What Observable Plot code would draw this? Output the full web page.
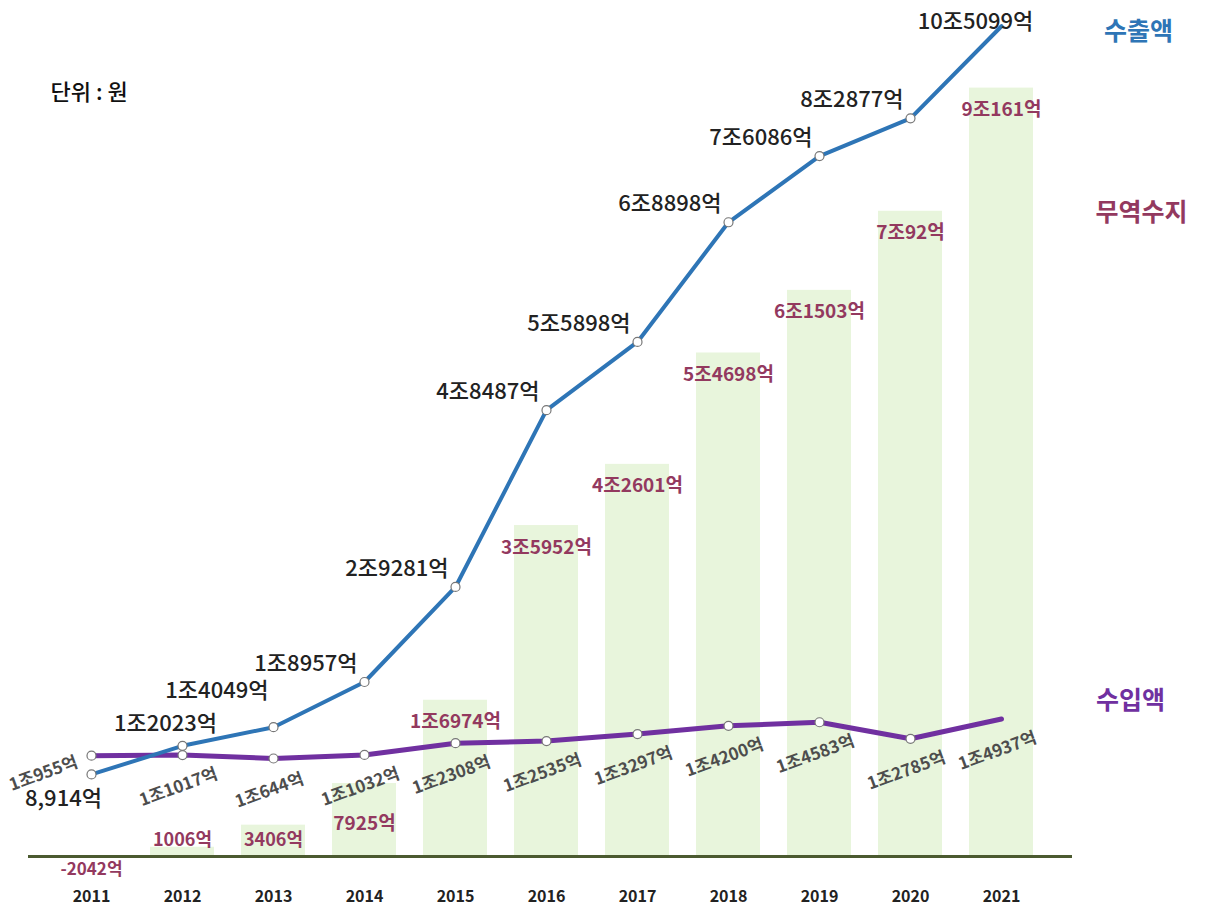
<!DOCTYPE html>
<html>
<head>
<meta charset="utf-8">
<script src="https://cdn.jsdelivr.net/npm/d3@7"></script>
<script src="https://cdn.jsdelivr.net/npm/@observablehq/plot@0.6"></script>
<style>
  html, body { margin: 0; padding: 0; background: #fff; }
  #chart { width: 1209px; height: 912px; }
  svg { font-family: "Noto Sans CJK KR", "Noto Sans", sans-serif; }
</style>
</head>
<body>
<div id="chart"></div>
<script>
const years = [2011, 2012, 2013, 2014, 2015, 2016, 2017, 2018, 2019, 2020, 2021];
const exportsV = [8914, 12023, 14049, 18957, 29281, 48487, 55898, 68898, 76086, 82877, 105099];
const importsV = [10955, 11017, 10644, 11032, 12308, 12535, 13297, 14200, 14583, 12785, 14937];
const balanceV = [-2042, 1006, 3406, 7925, 16974, 35952, 42601, 54698, 61503, 70092, 90161];
const exportLabels = ["8,914억", "1조2023억", "1조4049억", "1조8957억", "2조9281억", "4조8487억", "5조5898억", "6조8898억", "7조6086억", "8조2877억", "10조5099억"];
const importLabels = ["1조955억", "1조1017억", "1조644억", "1조1032억", "1조2308억", "1조2535억", "1조3297억", "1조4200억", "1조4583억", "1조2785억", "1조4937억"];
const balanceLabels = ["-2042억", "1006억", "3406억", "7925억", "1조6974억", "3조5952억", "4조2601억", "5조4698억", "6조1503억", "7조92억", "9조161억"];
const seriesNames = ["수출액", "무역수지", "수입액"];

const data = years.map((year, i) => ({
  year,
  exp: exportsV[i], imp: importsV[i], bal: balanceV[i],
  expL: exportLabels[i], impL: importLabels[i], balL: balanceLabels[i]
}));
const last = data[data.length - 1];

const BLUE = "#2e75b6", PURPLE = "#7030a0", MAROON = "#93395f";

// the top of the value axis is compressed above 7조8000억 (as in the source graphic)
const warp = d3.scaleLinear().domain([0, 78000, 106000]).range([0, 78000, 90600]);

const expText = {x: "year", y: "exp", text: "expL", fill: "#222", fontSize: 22, fontWeight: 500};
const impText = {x: "year", y: "imp", text: "impL", rotate: -20, fill: "#4d4d4d", fontSize: 17, fontWeight: "bold"};
const balText = {x: "year", text: "balL", fill: MAROON, fontSize: 19, fontWeight: "bold"};

const chart = Plot.plot({
  width: 1209,
  height: 912,
  marginLeft: 28,
  marginRight: 146,
  marginTop: 22,
  marginBottom: 56,
  x: {type: "band", domain: years, padding: 0.3, label: null},
  y: {transform: warp, domain: [0, 90600], axis: null},
  style: {fontFamily: "'Noto Sans CJK KR', 'Noto Sans', sans-serif", background: "#fff"},
  marks: [
    Plot.barY(data.filter(d => d.bal > 0), {x: "year", y: "bal", fill: "#e8f5dc"}),
    Plot.ruleY([0], {stroke: "#4b5a30", strokeWidth: 3, insetRight: -9}),
    Plot.axisX({tickSize: 0, tickPadding: 34, tickFormat: d => String(d), fontSize: 16, fontWeight: "bold", fill: "#222", label: null}),
    // trade balance labels
    Plot.text(data.filter(d => d.bal >= 10000), {...balText, y: "bal", dy: 22}),
    Plot.text(data.filter(d => d.bal >= 5000 && d.bal < 10000), {...balText, y: "bal", dy: 40}),
    Plot.text(data.filter(d => d.bal > 0 && d.bal < 5000), {...balText, y: () => 0, dy: -16, fontSize: 18}),
    Plot.text(data.filter(d => d.bal < 0), {...balText, y: () => 0, dy: 13, fontSize: 17}),
    // lines
    Plot.line(data, {x: "year", y: "imp", stroke: PURPLE, strokeWidth: 5}),
    Plot.line(data, {x: "year", y: "exp", stroke: BLUE, strokeWidth: 4}),
    Plot.dot(data.filter(d => d.year !== 2021), {x: "year", y: "imp", r: 4.5, fill: "white", stroke: "#777", strokeWidth: 1.2}),
    Plot.dot(data.filter(d => d.year !== 2021), {x: "year", y: "exp", r: 4.5, fill: "white", stroke: "#777", strokeWidth: 1.2}),
    // import labels
    Plot.text(data.filter(d => d.year !== 2011), {...impText, dx: -4, dy: 32}),
    Plot.text(data.filter(d => d.year === 2011), {...impText, dx: -48, dy: 18}),
    // export labels
    Plot.text(data.filter(d => d.year > 2013 && d.year < 2021), {...expText, textAnchor: "end", dx: -7, dy: -18}),
    Plot.text(data.filter(d => d.year === 2013), {...expText, textAnchor: "end", dx: -5, dy: -36}),
    Plot.text(data.filter(d => d.year === 2012), {...expText, dx: -17, dy: -22}),
    Plot.text(data.filter(d => d.year === 2011), {...expText, dx: -28, dy: 25}),
    Plot.text(data.filter(d => d.year === 2021), {...expText, dx: -26, dy: -4}),
    // series labels
    Plot.text([last], {x: "year", y: "exp", text: () => seriesNames[0], dx: 137, dy: 6, fill: BLUE, fontSize: 25, fontWeight: "bold"}),
    Plot.text([last], {x: "year", y: "bal", text: () => seriesNames[1], dx: 140, dy: 125, fill: MAROON, fontSize: 25, fontWeight: "bold"}),
    Plot.text([last], {x: "year", y: "imp", text: () => seriesNames[2], dx: 129, dy: -18, fill: PURPLE, fontSize: 25, fontWeight: "bold"}),
    // unit note
    Plot.text(["단위 : 원"], {frameAnchor: "top-left", textAnchor: "start", lineAnchor: "middle", dx: 22, dy: 70, fill: "#111", fontSize: 22, fontWeight: 500})
  ]
});
document.getElementById("chart").appendChild(chart);
</script>
</body>
</html>
